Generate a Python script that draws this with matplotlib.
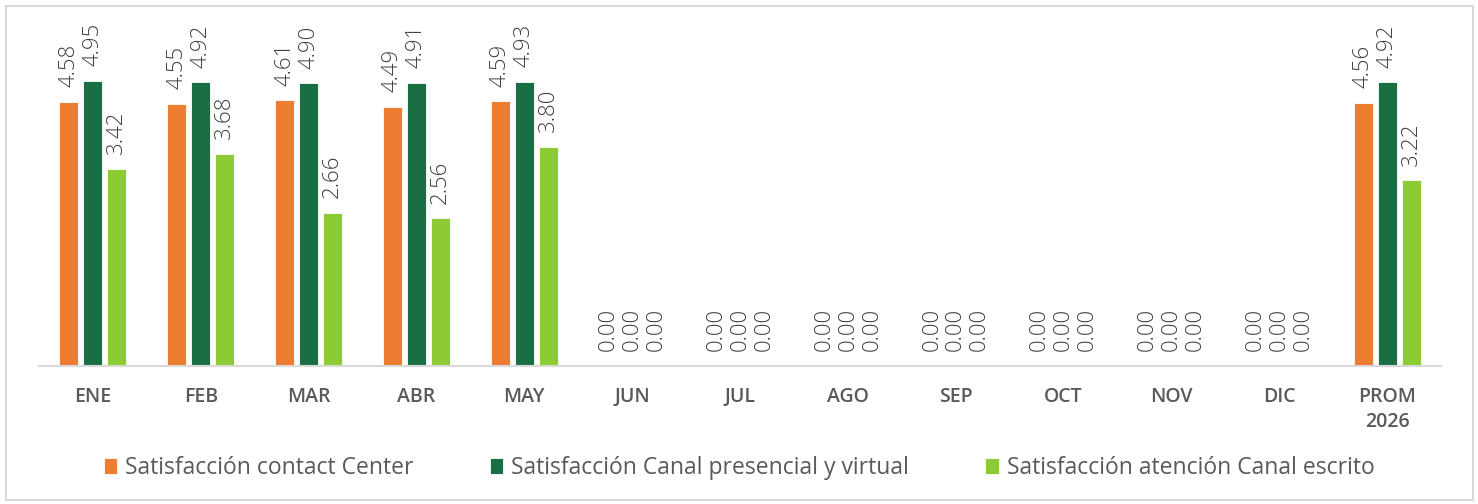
import matplotlib
matplotlib.use("Agg")
import matplotlib.pyplot as plt
import numpy as np
from matplotlib.patches import Rectangle

# Data.
CATEGORIES = ["ENE", "FEB", "MAR", "ABR", "MAY", "JUN", "JUL", "AGO",
              "SEP", "OCT", "NOV", "DIC", "PROM\n2026"]
CONTACT_CENTER = [4.58, 4.55, 4.61, 4.49, 4.59, 0, 0, 0, 0, 0, 0, 0, 4.56]
PRESENCIAL_VIRTUAL = [4.95, 4.92, 4.90, 4.91, 4.93, 0, 0, 0, 0, 0, 0, 0, 4.92]
CANAL_ESCRITO = [3.42, 3.68, 2.66, 2.56, 3.80, 0, 0, 0, 0, 0, 0, 0, 3.22]

SERIES_LABELS = ["Satisfacción contact Center",
                 "Satisfacción Canal presencial y virtual",
                 "Satisfacción atención Canal escrito"]
COLORS = ["#ED7D31", "#1A6E44", "#8DCB35"]

plt.rcParams["font.family"] = ["Open Sans", "DejaVu Sans"]

fig = plt.figure(figsize=(14.78, 5.04), dpi=100)
ax = fig.add_axes([39 / 1478, 1 - 366 / 504, (1441 - 39) / 1478, (366 - 20) / 504])

x = np.arange(len(CATEGORIES))
width = 0.176
step = 0.222

for i, (vals, color, label) in enumerate(zip(
        [CONTACT_CENTER, PRESENCIAL_VIRTUAL, CANAL_ESCRITO], COLORS, SERIES_LABELS)):
    pos = x + (i - 1) * step
    ax.bar(pos, vals, width, color=color, edgecolor="white", linewidth=0.6,
           label=label)
    for px, v in zip(pos, vals):
        ax.annotate(f"{v:.2f}", (px, v), xytext=(0, 10.5), textcoords="offset points",
                    rotation=90, ha="center", va="bottom", fontsize=16,
                    color="#404040", fontweight="light")

ax.set_xlim(-0.5, len(CATEGORIES) - 0.5)
ax.set_ylim(0, 6.0)
ax.set_yticks([])
ax.set_xticks(x)
ax.set_xticklabels(CATEGORIES, fontsize=14, color="#595959", fontweight="semibold",
                   linespacing=1.35)
ax.tick_params(axis="x", length=0, pad=15)
for side in ["top", "right", "left"]:
    ax.spines[side].set_visible(False)
ax.spines["bottom"].set_color("#d9d9d9")
ax.spines["bottom"].set_linewidth(1.5)

leg = fig.legend(loc="center", bbox_to_anchor=(0.5, 1 - 468 / 504), ncol=3,
                 frameon=False, fontsize=16.5, handlelength=0.6, handleheight=0.7,
                 handletextpad=0.35, columnspacing=3.3)
for t in leg.get_texts():
    t.set_color("#595959")

# Light border around the chart area.
fig.patches.append(Rectangle((6 / 1478, 4 / 504), 1467 / 1478, 494 / 504,
                             transform=fig.transFigure, fill=False,
                             edgecolor="#d9d9d9", linewidth=1.5))

fig.savefig("out.png", dpi=100)
